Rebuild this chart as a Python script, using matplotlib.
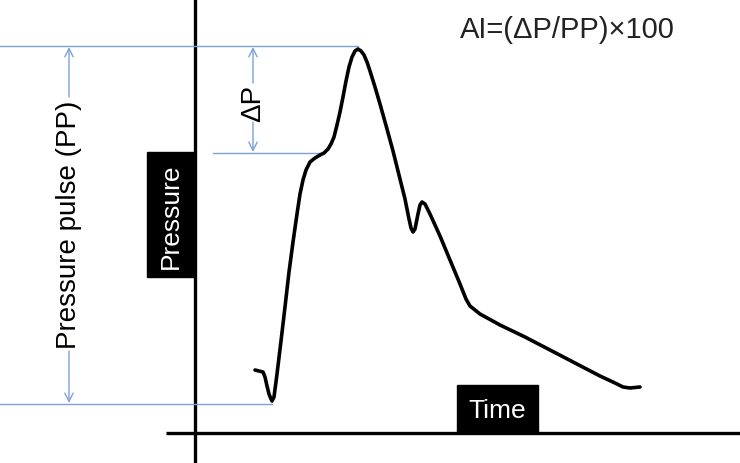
import matplotlib.pyplot as plt
from matplotlib.patches import Rectangle

# pulse waveform (time, pressure) in pixel units, y grows downward
time_pts = [255, 259, 263, 265, 267, 269, 271, 272, 274, 277, 281, 285, 289, 293, 297, 300,
            303, 306, 310, 315, 320, 324, 328, 331, 334, 337, 340, 343, 346, 349, 352, 355,
            358, 361, 364, 367, 370, 375, 380, 387, 393, 400, 405, 409, 411, 413, 415, 418,
            420, 422, 425, 430, 440, 450, 460, 466, 470, 480, 500, 525, 550, 575, 600, 615,
            623, 630, 640]
pressure_pts = [371, 372, 373, 378, 387, 395, 400, 402, 398, 375, 342, 308, 273, 243, 215, 195,
                181, 171, 163, 159, 156, 154, 150, 145, 138, 126, 113, 98, 82, 68, 58, 52,
                50, 52, 56, 63, 72, 88, 105, 130, 152, 180, 200, 220, 229, 233, 230, 215,
                206, 203, 205, 215, 237, 261, 285, 300, 307, 315, 326, 338, 351, 364, 377, 384,
                388, 389, 388]

peak_y = 47
shoulder_y = 154
foot_y = 405

blue = '#7ba3d8'
font = ['Liberation Sans', 'DejaVu Sans']
plt.rcParams['font.family'] = font

fig = plt.figure(figsize=(7.4, 4.64), dpi=100)
ax = fig.add_axes([0, 0, 1, 1])
ax.set_xlim(0, 740)
ax.set_ylim(464, 0)
ax.axis('off')

# axes of the sketch
ax.plot([195, 195], [0, 464], color='black', lw=2.4, solid_capstyle='butt')
ax.plot([166, 740], [434, 434], color='black', lw=2.4, solid_capstyle='butt')

# reference lines
ax.plot([0, 358], [peak_y, peak_y], color=blue, lw=1)
ax.plot([0, 272], [foot_y, foot_y], color=blue, lw=1)
ax.plot([213, 320], [shoulder_y, shoulder_y], color=blue, lw=1)

# waveform
ax.plot(time_pts, pressure_pts, color='black', lw=2.6, solid_joinstyle='round', solid_capstyle='round')

arrow = dict(arrowstyle='->,head_width=0.3,head_length=0.6', color=blue, lw=1, shrinkA=0, shrinkB=0)

# PP arrow
ax.annotate('', xy=(69, peak_y + 1), xytext=(69, 98), arrowprops=arrow)
ax.annotate('', xy=(69, foot_y - 1), xytext=(69, 352), arrowprops=arrow)
ax.text(69, 225, 'Pressure pulse (PP)', rotation=90, ha='center', va='center', fontsize=20)

# delta P arrow
ax.annotate('', xy=(253, peak_y + 1), xytext=(253, 84), arrowprops=arrow)
ax.annotate('', xy=(253, shoulder_y - 1), xytext=(253, 123), arrowprops=arrow)
ax.text(253, 103, 'ΔP', rotation=90, ha='center', va='center', fontsize=20)

# axis label boxes
ax.add_patch(Rectangle((147, 153), 47, 125, color='black', zorder=3))
ax.text(171, 216, 'Pressure', rotation=90, ha='center', va='center', fontsize=19, color='white', zorder=4)
ax.add_patch(Rectangle((457, 386), 81, 48, color='black', zorder=3))
ax.text(497, 411, 'Time', ha='center', va='center', fontsize=19, color='white', zorder=4)

ax.text(567, 30, 'AI=(ΔP/PP)×100', ha='center', va='center', fontsize=21, color='#222222')

fig.savefig('out.png', dpi=100)
